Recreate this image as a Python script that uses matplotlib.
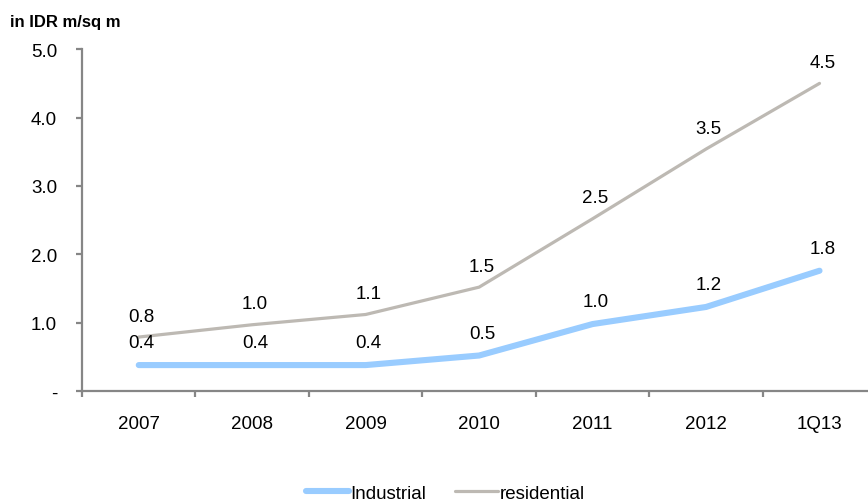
import matplotlib
matplotlib.use("Agg")
import matplotlib.pyplot as plt
import numpy as np

# land price, IDR m per sq m
periods = ["2007", "2008", "2009", "2010", "2011", "2012", "1Q13"]
industrial = [0.38, 0.38, 0.38, 0.52, 0.98, 1.23, 1.76]
residential = [0.79, 0.97, 1.12, 1.52, 2.52, 3.54, 4.5]
y_ticks = [0, 1, 2, 3, 4, 5]
y_tick_labels = ["-", "1.0", "2.0", "3.0", "4.0", "5.0"]

plt.rcParams["font.family"] = ["Liberation Sans", "DejaVu Sans"]

fig = plt.figure(figsize=(8.68, 5.02), dpi=100)
# axes runs a bit past the right edge of the figure
ax = fig.add_axes([0.0945, 0.219, 0.915, 0.681])

x = np.arange(len(periods))
ax.plot(x, industrial, color="#99CCFF", linewidth=4.4, solid_capstyle="round",
        label="Industrial", zorder=3)
ax.plot(x, residential, color="#BDB9B3", linewidth=2.3, solid_capstyle="round",
        label="residential", zorder=3)

# value labels above each point
for xi, v in zip(x, industrial):
    ax.annotate(f"{v:.1f}", (xi, v), xytext=(2, 16), textcoords="offset points",
                ha="center", va="center", fontsize=13.5, color="black")
for xi, v in zip(x, residential):
    ax.annotate(f"{v:.1f}", (xi, v), xytext=(2, 15), textcoords="offset points",
                ha="center", va="center", fontsize=13.5, color="black")

ax.set_xlim(-0.5, len(periods) - 0.5)
ax.set_ylim(0, 5)

# axis styling
for side in ["top", "right"]:
    ax.spines[side].set_visible(False)
for side in ["left", "bottom"]:
    ax.spines[side].set_color("#868686")
    ax.spines[side].set_linewidth(1.6)

ax.set_yticks(y_ticks)
ax.set_yticklabels(y_tick_labels)
ax.tick_params(axis="y", direction="out", length=4, width=1.6, color="#868686",
               labelsize=13.5, pad=14)

ax.set_xticks(x)
ax.set_xticklabels(periods)
ax.set_xticks(np.arange(-0.5, len(periods), 1.0), minor=True)
ax.tick_params(axis="x", which="major", length=0, labelsize=13.5, pad=17)
ax.tick_params(axis="x", which="minor", direction="out", length=4, width=1.6,
               color="#868686")

fig.text(0.012, 0.955, "in IDR m/sq m", fontsize=12, fontweight="bold",
         ha="left", va="center", family=["Liberation Sans Narrow", "Liberation Sans"])

fig.legend(loc="lower center", bbox_to_anchor=(0.513, -0.035), ncol=2, frameon=False,
           fontsize=13.5, handlelength=2.3, handletextpad=0.1, columnspacing=1.5)

fig.savefig("out.png", dpi=100)
